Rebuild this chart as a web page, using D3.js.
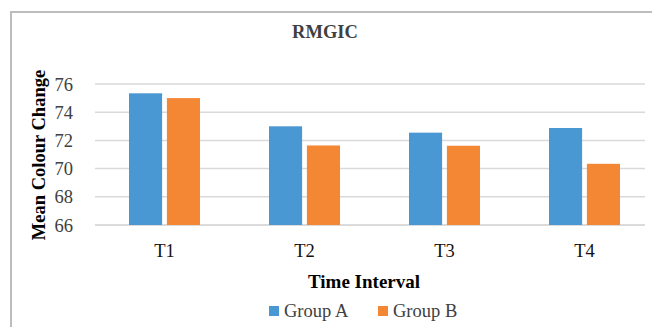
<!DOCTYPE html>
<html><head><meta charset="utf-8">
<script src="https://cdn.jsdelivr.net/npm/d3@7"></script>
<style>body{margin:0;background:#fff}svg{display:block}</style>
</head><body>
<svg id="c" width="652" height="327"></svg>
<script>
const categories = ["T1","T2","T3","T4"];
const seriesNames = ["Group A","Group B"];
const groupA = [75.34, 73.0, 72.55, 72.88];
const groupB = [75.0, 71.64, 71.62, 70.34];
const yTicks = [66,68,70,72,74,76];
const colors = ["#4a98d3","#f48733"];

const svg = d3.select("#c");
const font = "'Liberation Serif','Times New Roman',serif";
// frame
svg.append("rect").attr("x",11).attr("y",12).attr("width",700).attr("height",400)
  .attr("fill","#fff").attr("stroke","#bdbdbd").attr("stroke-width",2);

const x0 = d3.scaleBand().domain(categories).range([94.5,654.5]).paddingInner(0).paddingOuter(0);
const y = d3.scaleLinear().domain([66,76]).range([225,84]);
const x1 = d3.scaleBand().domain(seriesNames).range([0,71]).paddingInner(9/71);

// gridlines
const g = svg.append("g");
g.selectAll("line.grid").data(yTicks).join("line")
  .attr("x1",95).attr("x2",645).attr("y1",d=>y(d)).attr("y2",d=>y(d))
  .attr("stroke",d=>d===66?"#cfcfcf":"#d9d9d9").attr("stroke-width",1.5);

// y tick labels
svg.append("g").selectAll("text").data(yTicks).join("text")
  .attr("x",73).attr("y",d=>y(d)+6.5).attr("text-anchor","end")
  .attr("font-family",font).attr("font-size",18.5).attr("fill","#404040").text(d=>d);

// bars
const data = categories.map((c,i)=>({c, vals:[groupA[i],groupB[i]]}));
const grp = svg.append("g").selectAll("g").data(data).join("g")
  .attr("transform",d=>`translate(${x0(d.c)+x0.bandwidth()/2-35.5},0)`);
grp.selectAll("rect").data(d=>d.vals.map((v,j)=>({v,s:seriesNames[j],j}))).join("rect")
  .attr("x",d=>x1(d.s)).attr("width",x1.bandwidth())
  .attr("y",d=>y(d.v)).attr("height",d=>y(66)-y(d.v))
  .attr("fill",d=>colors[d.j]);

// x labels
svg.append("g").selectAll("text").data(categories).join("text")
  .attr("x",d=>x0(d)+x0.bandwidth()/2).attr("y",257).attr("text-anchor","middle")
  .attr("font-family",font).attr("font-size",18.5).attr("fill","#111").text(d=>d);

// title
svg.append("text").attr("x",325).attr("y",37.5).attr("text-anchor","middle")
  .attr("font-family",font).attr("font-weight","bold").attr("font-size",18.5).attr("fill","#404040").text("RMGIC");

// axis titles
svg.append("text").attr("transform","translate(45,155) rotate(-90)").attr("text-anchor","middle")
  .attr("font-family",font).attr("font-weight","bold").attr("font-size",18.5).attr("fill","#000").text("Mean Colour Change");
svg.append("text").attr("x",364).attr("y",288).attr("text-anchor","middle")
  .attr("font-family",font).attr("font-weight","bold").attr("font-size",19).attr("fill","#000").text("Time Interval");

// legend
const leg = svg.append("g");
const legX = [269,378];
seriesNames.forEach((s,i)=>{
  leg.append("rect").attr("x",legX[i]).attr("y",306).attr("width",10).attr("height",10).attr("fill",colors[i]);
  leg.append("text").attr("x",legX[i]+15).attr("y",316.5).attr("font-family",font).attr("font-size",18.5)
    .attr("fill","#404040").text(s);
});
</script>
</body></html>
